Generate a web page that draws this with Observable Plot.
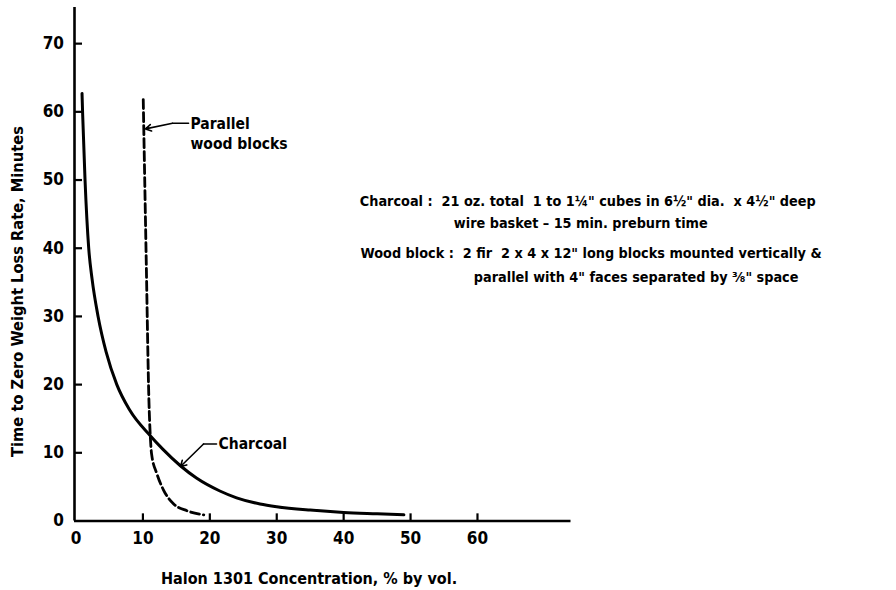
<!DOCTYPE html>
<html><head><meta charset="utf-8">
<script src="https://cdn.jsdelivr.net/npm/d3@7"></script>
<script src="https://cdn.jsdelivr.net/npm/@observablehq/plot@0.6"></script>
<style>
body{margin:0;background:#fff}
#chart svg{font-family:"DejaVu Sans Condensed","DejaVu Sans",sans-serif}
</style>
</head><body><div id="chart"></div>
<script>
// Charcoal curve (solid)
const charcoalX = [0.9, 1.0, 1.35, 1.9, 2.4, 3.3, 4.5, 6.1, 8.0, 11.1, 13.0, 15.6, 18.0, 21.5, 24.0, 27.5, 30.0, 35.0, 40.0, 45.0, 49.0];
const charcoalY = [62.7, 59.5, 50.0, 40.0, 35.5, 30.0, 24.8, 20.0, 16.3, 12.5, 10.5, 8.1, 6.3, 4.4, 3.4, 2.5, 2.1, 1.6, 1.25, 1.05, 0.9];
// Parallel wood blocks curve (dashed)
const woodX = [10.05, 10.5, 10.9, 11.1, 11.3, 12.1, 13.1, 14.6, 16.6, 19.1];
const woodY = [61.8, 38.0, 17.6, 12.5, 9.8, 6.9, 4.5, 2.5, 1.5, 0.9];

const xTicks = [0, 10, 20, 30, 40, 50, 60];
const yTicks = [0, 10, 20, 30, 40, 50, 60, 70];
const xLabel = "Halon 1301 Concentration, % by vol.";
const yLabel = "Time to Zero Weight Loss Rate, Minutes";

// Annotation texts (anchored in data coordinates)
const noteText = [
  "Charcoal :  21 oz. total  1 to 1¼\" cubes in 6½\" dia.  x 4½\" deep",
  "wire basket – 15 min. preburn time",
  "Wood block :  2 fir  2 x 4 x 12\" long blocks mounted vertically &",
  "parallel with 4\" faces separated by ⅜\" space"
];
const noteX = [42.42, 56.47, 42.53, 59.46];
const noteY = [46.84, 43.57, 39.17, 35.74];

const labelText = ["Parallel", "wood blocks", "Charcoal"];
const labelX = [17.11, 17.11, 21.3];
const labelY = [58.17, 55.30, 11.22];

// Leader lines: [x, y] in data units
const woodLeaderX = [16.82, 14.42, 10.39];
const woodLeaderY = [58.32, 58.32, 57.50];
const charLeaderX = [21.0, 19.06, 15.62];
const charLeaderY = [11.29, 11.29, 7.99];

const charcoal = charcoalX.map((x, i) => ({x, y: charcoalY[i]}));
const wood = woodX.map((x, i) => ({x, y: woodY[i]}));
const notes = noteText.map((t, i) => ({t, x: noteX[i], y: noteY[i]}));
const labels = labelText.map((t, i) => ({t, x: labelX[i], y: labelY[i]}));
const leaders = [
  woodLeaderX.map((x, i) => ({x, y: woodLeaderY[i], g: "w"})),
  charLeaderX.map((x, i) => ({x, y: charLeaderY[i], g: "c"}))
];
const leaderLines = leaders.flatMap(l => l.slice(0, 2));
const leaderArrows = leaders.map(l => ({x1: l[1].x, y1: l[1].y, x2: l[2].x, y2: l[2].y}));

const xMax = 74.2, yMax = 75.3;

const chart = Plot.plot({
  width: 896,
  height: 590,
  marginLeft: 75.5,
  marginRight: 324,
  marginTop: 7,
  marginBottom: 69.5,
  x: {domain: [0, xMax], label: null},
  y: {domain: [0, yMax], label: null},
  style: {background: "#fff", color: "#000"},
  marks: [
    // axis lines
    Plot.ruleX([0], {y1: 0, y2: yMax, strokeWidth: 2.6, dx: -1.5}),
    Plot.ruleY([0], {x1: 0, x2: xMax, strokeWidth: 2.6, dx: -1.5}),
    // inward ticks
    Plot.ruleX(xTicks.slice(1), {x: d => d, y1: 0, y2: 1.05, strokeWidth: 2.2}),
    Plot.ruleY(yTicks.slice(1), {y: d => d, x1: 0, x2: 1.2, strokeWidth: 2.2, dx: -1.5}),
    Plot.axisX(xTicks, {tickSize: 0, tickPadding: 11, fontSize: 17, fontWeight: "bold", label: null}),
    Plot.axisY(yTicks, {tickSize: 0, tickPadding: 12, fontSize: 17, fontWeight: "bold", label: null}),
    // axis titles
    Plot.text([xLabel], {x: 34.83, y: -8.43, text: d => d, fontSize: 16, fontWeight: "bold", lineAnchor: "middle"}),
    Plot.text([yLabel], {x: -8.67, y: 33.65, text: d => d, rotate: -90, fontSize: 16.3, fontWeight: "bold", lineAnchor: "middle"}),
    // curves
    Plot.line(charcoal, {x: "x", y: "y", curve: "monotone-x", strokeWidth: 3}),
    Plot.line(wood, {x: "x", y: "y", curve: "monotone-x", strokeWidth: 2.8, strokeDasharray: "9,4"}),
    // leaders
    Plot.line(leaderLines, {x: "x", y: "y", z: "g", strokeWidth: 1.6}),
    Plot.arrow(leaderArrows, {x1: "x1", y1: "y1", x2: "x2", y2: "y2", strokeWidth: 1.6, headLength: 6}),
    // labels
    Plot.text(labels, {x: "x", y: "y", text: "t", textAnchor: "start", fontSize: 15.5, fontWeight: "bold", lineAnchor: "middle"}),
    Plot.text(notes, {x: "x", y: "y", text: "t", textAnchor: "start", fontSize: 14.3, fontWeight: "bold", lineAnchor: "middle"})
  ]
});
document.getElementById("chart").append(chart);
</script>
</body></html>
